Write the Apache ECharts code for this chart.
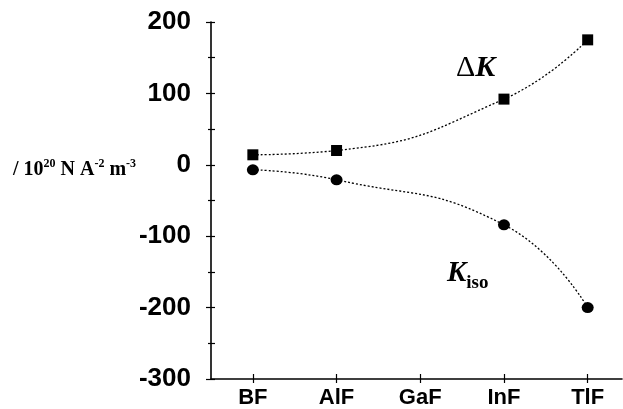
<!DOCTYPE html>
<html>
<head>
<meta charset="utf-8">
<script src="https://cdn.jsdelivr.net/npm/echarts@6/dist/echarts.min.js"></script>
<style>html,body{margin:0;padding:0;background:#fff}#c{width:623px;height:409px}</style>
</head>
<body>
<div id="c"></div>
<script>
const categories = ['BF', 'AlF', 'GaF', 'InF', 'TlF'];
const deltaK = [14, 20, null, 92, 175];
const kIso = [-7, -21, null, -84, -200];
const yMin = -300, yMax = 200, yStep = 100;

const catIdx = categories.map((c, i) => i);
const toPairs = arr => arr.map((v, i) => [i, v]).filter(p => p[1] !== null);

const chart = echarts.init(document.getElementById('c'), null, {renderer: 'canvas'});
const lineStyle = {color: '#000', width: 1.3, type: [2, 2]};
const tickFont = {color: '#000', fontWeight: 'bold', fontFamily: 'Liberation Sans'};
const xBase = {type: 'value', min: -0.5, max: 4.41};
chart.setOption({
  animation: false,
  backgroundColor: '#fff',
  grid: {left: 211, right: 1, top: 22, bottom: 30, containLabel: false},
  xAxis: [Object.assign({}, xBase, {
    axisLine: {show: true, onZero: false, lineStyle: {color: '#000', width: 1.6}},
    axisTick: {show: true, customValues: catIdx, inside: false, length: 4, lineStyle: {color: '#000', width: 1.2}},
    axisLabel: Object.assign({margin: 8, fontSize: 22, customValues: catIdx, formatter: v => categories[Math.round(v)]}, tickFont),
    splitLine: {show: false}
  }), Object.assign({}, xBase, {
    position: 'bottom', offset: 0,
    axisLine: {show: false, onZero: false},
    axisTick: {show: true, customValues: catIdx, inside: true, length: 5, lineStyle: {color: '#000', width: 1.2}},
    axisLabel: {show: false}, splitLine: {show: false}
  })],
  yAxis: [{
    type: 'value', min: yMin, max: yMax, interval: yStep,
    axisLine: {show: true, onZero: false, lineStyle: {color: '#000', width: 1.6}},
    axisTick: {show: true, inside: false, length: 5, lineStyle: {color: '#000', width: 1.2}},
    minorTick: {show: true, splitNumber: 2, length: 3, lineStyle: {color: '#000', width: 1.2}},
    axisLabel: Object.assign({margin: 20, fontSize: 26}, tickFont),
    splitLine: {show: false}, minorSplitLine: {show: false}
  }, {
    type: 'value', min: yMin, max: yMax, interval: yStep, position: 'left', offset: 0,
    axisLine: {show: false, onZero: false},
    axisTick: {show: true, inside: true, length: 4, lineStyle: {color: '#000', width: 1.2}},
    minorTick: {show: true, splitNumber: 2, length: 4, lineStyle: {color: '#000', width: 1.2}},
    axisLabel: {show: false}, splitLine: {show: false}
  }],
  series: [{
    name: 'ΔK', type: 'line', data: toPairs(deltaK), smooth: 0.5,
    symbol: 'rect', symbolSize: 11, itemStyle: {color: '#000'}, lineStyle: lineStyle
  }, {
    name: 'Kiso', type: 'line', data: toPairs(kIso), smooth: 0.5,
    symbol: 'circle', symbolSize: [12, 11], itemStyle: {color: '#000'}, lineStyle: lineStyle
  }],
  graphic: [{
    type: 'text', left: 13, top: 158,
    style: {
      text: '{b|/ 10}{s|20}{b| N A}{s|-2}{b| m}{s|-3}',
      rich: {
        b: {fontFamily: 'Liberation Serif', fontSize: 20, fontWeight: 'bold', fill: '#000', verticalAlign: 'bottom', lineHeight: 22},
        s: {fontFamily: 'Liberation Serif', fontSize: 12, fontWeight: 'bold', fill: '#000', verticalAlign: 'top', lineHeight: 22, padding: [0, 0, 9, 0]}
      }
    }
  }, {
    type: 'text', left: 456, top: 53,
    style: {
      text: '{a|Δ}{k|K}',
      rich: {
        a: {fontFamily: 'Liberation Serif', fontSize: 30, fill: '#000'},
        k: {fontFamily: 'Liberation Serif', fontSize: 30, fontStyle: 'italic', fontWeight: 'bold', fill: '#000'}
      }
    }
  }, {
    type: 'text', left: 447, top: 259,
    style: {
      text: '{k|K}{i|iso}',
      rich: {
        k: {fontFamily: 'Liberation Serif', fontSize: 29, fontStyle: 'italic', fontWeight: 'bold', fill: '#000', verticalAlign: 'bottom', lineHeight: 30},
        i: {fontFamily: 'Liberation Serif', fontSize: 19, fontWeight: 'bold', fill: '#000', verticalAlign: 'bottom', lineHeight: 30, padding: [0, 0, -5, 0]}
      }
    }
  }]
});
</script>
</body>
</html>
